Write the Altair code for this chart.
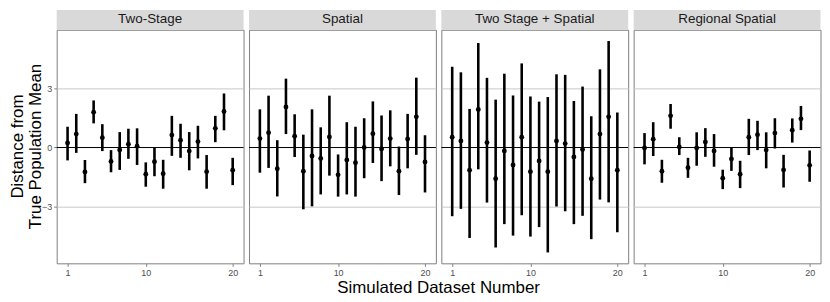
import altair as alt
import pandas as pd

datasets = list(range(1, 21))
methods = ["Two-Stage", "Spatial", "Two Stage + Spatial", "Regional Spatial"]

two_stage_est = [0.23, 0.68, -1.23, 1.78, 0.5, -0.7, -0.12, 0.17, 0.07, -1.35, -0.72, -1.32, 0.63, 0.37, -0.18, 0.3, -1.22, 0.97, 1.82, -1.15]
two_stage_lo = [-0.65, -0.27, -1.8, 1.22, -0.18, -1.25, -1.13, -0.57, -0.88, -1.98, -1.45, -2.08, -0.42, -0.52, -1.15, -0.55, -2.08, 0.27, 0.87, -1.9]
two_stage_hi = [1.05, 1.7, -0.63, 2.38, 1.18, -0.13, 0.78, 0.95, 0.97, -0.75, -0.02, -0.62, 1.6, 1.2, 0.78, 1.1, -0.38, 1.6, 2.73, -0.52]

spatial_est = [0.45, 0.75, -1.07, 2.05, 0.57, -1.2, -0.43, -0.55, 0.53, -1.38, -0.63, -0.77, 0.0, 0.7, -0.07, 0.45, -1.2, 0.43, 1.55, -0.73]
spatial_lo = [-1.27, -1.03, -2.47, 0.68, -0.48, -3.12, -2.97, -2.37, -1.42, -2.48, -2.37, -2.48, -1.55, -0.78, -1.7, -0.95, -2.4, -1.05, -0.37, -2.27]
spatial_hi = [1.93, 2.62, 0.37, 3.48, 1.68, 0.65, 1.93, 1.02, 2.62, -0.35, 1.28, 1.05, 1.48, 2.33, 1.62, 1.88, 0.05, 1.7, 3.53, 0.62]

ts_spatial_est = [0.52, 0.33, -1.15, 1.92, 0.25, -1.58, -0.17, -0.88, 0.52, -1.22, -0.68, -1.22, 0.33, 0.2, -0.48, -0.1, -1.58, 0.68, 1.55, -1.15]
ts_spatial_lo = [-3.47, -3.1, -4.57, -1.1, -2.78, -5.05, -3.87, -4.45, -3.42, -4.5, -4.02, -5.3, -2.98, -3.22, -3.87, -3.45, -4.63, -2.63, -2.77, -4.28]
ts_spatial_hi = [4.08, 3.8, 1.95, 5.28, 3.52, 2.42, 3.73, 2.63, 4.25, 2.58, 2.32, 2.55, 3.7, 3.67, 2.35, 3.08, 1.58, 3.95, 5.38, 1.77]

regional_est = [-0.02, 0.42, -1.2, 1.6, 0.03, -1.02, -0.02, 0.28, -0.17, -1.55, -0.58, -1.35, 0.52, 0.65, -0.13, 0.73, -1.13, 0.87, 1.45, -0.9]
regional_lo = [-0.85, -0.43, -1.78, 0.95, -0.38, -1.53, -0.92, -0.47, -0.97, -2.1, -1.18, -2.05, -0.38, -0.13, -1.05, -0.05, -2.02, 0.25, 0.88, -1.73]
regional_hi = [0.73, 1.28, -0.62, 2.2, 0.52, -0.52, 0.77, 0.98, 0.68, -1.12, 0.02, -0.67, 1.45, 1.35, 0.77, 1.48, -0.37, 1.47, 2.1, -0.15]

x_ticks = [1, 10, 20]
y_ticks = [-3, 0, 3]
y_title = ["Distance from", "True Population Mean"]
x_title = "Simulated Dataset Number"

series = [
    (two_stage_est, two_stage_lo, two_stage_hi),
    (spatial_est, spatial_lo, spatial_hi),
    (ts_spatial_est, ts_spatial_lo, ts_spatial_hi),
    (regional_est, regional_lo, regional_hi),
]

W, H = 188, 235
FONT = "Liberation Sans"
xscale = alt.Scale(domain=[-0.25, 21.25], nice=False, zero=False)
yscale = alt.Scale(domain=[-5.85, 5.95], nice=False, zero=False)

xaxis = alt.Axis(values=x_ticks, title=None, grid=False, domain=False, tickColor="#7f7f7f",
                 tickSize=3, labelFontSize=9, labelColor="#4d4d4d", labelPadding=2, format="d",
                 labelFont=FONT)


def yaxis(show):
    if show:
        return alt.Axis(values=y_ticks, title=None, grid=True, gridColor="#c8c8c8", domain=False,
                        tickColor="#7f7f7f", tickSize=3, labelFontSize=9, labelColor="#4d4d4d",
                        labelPadding=2, labelFont=FONT)
    return alt.Axis(values=y_ticks, title=None, grid=True, gridColor="#c8c8c8", domain=False,
                    ticks=False, labels=False)


panels = []
for i, (name, (est, lo, hi)) in enumerate(zip(methods, series)):
    df = pd.DataFrame({"dataset": datasets, "est": est, "lo": lo, "hi": hi})
    X = alt.X("dataset:Q", scale=xscale, axis=xaxis)
    bars = alt.Chart(df).mark_rule(color="black", strokeWidth=2.6).encode(
        x=X, y=alt.Y("lo:Q", scale=yscale, axis=yaxis(i == 0)), y2="hi:Q")
    pts = alt.Chart(df).mark_circle(color="black", size=24, opacity=1).encode(
        x=X, y=alt.Y("est:Q", scale=yscale, axis=yaxis(i == 0)))
    zero = alt.Chart(pd.DataFrame({"z": [0]})).mark_rule(color="black", strokeWidth=1).encode(
        y=alt.Y("z:Q", scale=yscale, axis=yaxis(i == 0)))
    lab = pd.DataFrame({"label": [name]})
    strip = alt.Chart(lab).mark_rect(color="#d9d9d9").encode(
        x=alt.value(0), x2=alt.value(W), y=alt.value(-20), y2=alt.value(0))
    strip_txt = alt.Chart(lab).mark_text(fontSize=13.5, color="#1a1a1a", font=FONT,
                                         align="center", baseline="middle").encode(
        x=alt.value(W / 2), y=alt.value(-10.5), text="label:N")
    layers = [strip, zero, bars, pts, strip_txt]
    if i == 0:
        for k, (t, xv) in enumerate(zip(y_title, [-39, -20.5])):
            layers.append(alt.Chart(pd.DataFrame({"t": [t]})).mark_text(
                fontSize=17, font=FONT, color="black", angle=270, align="center",
                baseline="middle").encode(x=alt.value(xv), y=alt.value(H / 2), text="t:N"))
    if i == 1:
        layers.append(alt.Chart(pd.DataFrame({"t": [x_title]})).mark_text(
            fontSize=17, font=FONT, color="black", align="center",
            baseline="middle").encode(x=alt.value(W + 2.75), y=alt.value(H + 25), text="t:N"))
    panels.append(alt.layer(*layers).properties(width=W, height=H))

chart = alt.hconcat(*panels, spacing=5.5, bounds="flush").properties(padding=0).configure_view(
    stroke="#7f7f7f", strokeWidth=1).configure_axis(labelFont=FONT)

chart.save("out.html", embed_options={"renderer": "svg", "actions": False})
